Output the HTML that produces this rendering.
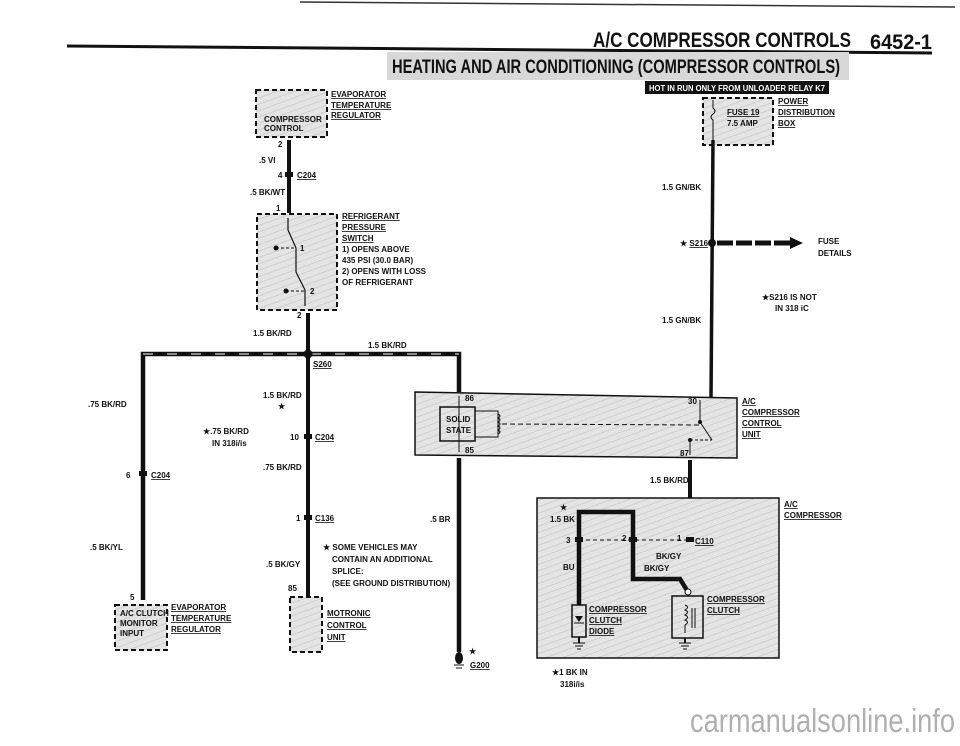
<!DOCTYPE html>
<html><head><meta charset="utf-8"><style>
html,body{margin:0;padding:0;background:#fff;width:960px;height:746px;overflow:hidden}
svg text{font-family:"Liberation Sans",sans-serif;font-weight:bold;fill:#111}
.s{font-size:8px}
.u{text-decoration:underline}
</style></head><body>
<svg width="960" height="746" viewBox="0 0 960 746" xmlns="http://www.w3.org/2000/svg">
<defs>
<pattern id="g" width="6" height="6" patternUnits="userSpaceOnUse" patternTransform="rotate(70)">
<rect width="6" height="6" fill="#e4e4e4"/><line x1="0" y1="0" x2="0" y2="6" stroke="#cfcfcf" stroke-width="2"/>
</pattern>
</defs>
<line x1="300" y1="2" x2="955" y2="7" stroke="#333" stroke-width="1.5"/>
<text x="593" y="47" font-size="21" textLength="258" lengthAdjust="spacingAndGlyphs">A/C COMPRESSOR CONTROLS</text>
<text x="870" y="49" font-size="21" textLength="62" lengthAdjust="spacingAndGlyphs">6452-1</text>
<line x1="67" y1="46" x2="932" y2="53" stroke="#111" stroke-width="3"/>
<rect x="387" y="52" width="462" height="28" fill="#d8d8d8"/>
<text x="392" y="73" font-size="19" textLength="448" lengthAdjust="spacingAndGlyphs">HEATING AND AIR CONDITIONING (COMPRESSOR CONTROLS)</text>
<rect x="645" y="81" width="184" height="13" fill="#111"/>
<text x="649" y="91" font-size="8" style="fill:#fff" textLength="176" lengthAdjust="spacingAndGlyphs">HOT IN RUN ONLY FROM UNLOADER RELAY K7</text>

<rect x="256" y="90" width="71" height="47" fill="url(#g)" stroke="#111" stroke-width="2" stroke-dasharray="5,3"/>
<text x="264" y="122" class="s" font-size="7">COMPRESSOR</text>
<text x="264" y="131" class="s" font-size="7">CONTROL</text>
<text x="331" y="97" class="s u">EVAPORATOR</text>
<text x="331" y="108" class="s u">TEMPERATURE</text>
<text x="331" y="118" class="s u">REGULATOR</text>
<line x1="289" y1="140" x2="289" y2="213" stroke="#111" stroke-width="4"/>
<text x="278" y="147" class="s">2</text>
<text x="259" y="163" class="s">.5 VI</text>
<text x="278" y="178" class="s">4</text>
<text x="297" y="178" class="s u">C204</text>
<rect x="285" y="172" width="8" height="5" fill="#111"/>
<text x="250" y="195" class="s">.5 BK/WT</text>
<text x="276" y="211" class="s">1</text>

<rect x="257" y="214" width="80" height="96" fill="url(#g)" stroke="#111" stroke-width="2" stroke-dasharray="5,3"/>
<polyline points="288,218 288,230 296,248 296,272 305,290 305,306" fill="none" stroke="#111" stroke-width="1.2"/>
<circle cx="276" cy="248" r="2.5" fill="#111"/><line x1="276" y1="248" x2="296" y2="248" stroke="#111" stroke-dasharray="3,2"/>
<circle cx="286" cy="291" r="2.5" fill="#111"/><line x1="286" y1="291" x2="305" y2="291" stroke="#111" stroke-dasharray="3,2"/>
<text x="300" y="251" class="s">1</text><text x="310" y="294" class="s">2</text>
<text x="342" y="219" class="s u">REFRIGERANT</text>
<text x="342" y="230" class="s u">PRESSURE</text>
<text x="342" y="241" class="s u">SWITCH</text>
<text x="342" y="252" class="s">1) OPENS ABOVE</text>
<text x="342" y="263" class="s">435 PSI (30.0 BAR)</text>
<text x="342" y="274" class="s">2) OPENS WITH LOSS</text>
<text x="342" y="285" class="s">OF REFRIGERANT</text>
<text x="297" y="318" class="s">2</text>
<line x1="308" y1="313" x2="308" y2="600" stroke="#111" stroke-width="4"/>
<text x="253" y="336" class="s">1.5 BK/RD</text>
<text x="368" y="348" class="s">1.5 BK/RD</text>

<polyline points="143,600 143,354 459,354 459,392" fill="none" stroke="#111" stroke-width="4.5"/>
<line x1="143" y1="354" x2="459" y2="354" stroke="#fff" stroke-width="1" stroke-dasharray="10,14"/>
<circle cx="308" cy="354" r="4.5" fill="#111"/>
<text x="313" y="367" class="s u">S260</text>

<text x="88" y="407" class="s">.75 BK/RD</text>
<text x="126" y="478" class="s">6</text>
<rect x="139" y="471" width="8" height="5" fill="#111"/>
<text x="151" y="478" class="s u">C204</text>
<text x="90" y="550" class="s">.5 BK/YL</text>
<text x="130" y="600" class="s">5</text>
<rect x="115" y="605" width="52" height="45" fill="url(#g)" stroke="#111" stroke-width="2" stroke-dasharray="5,3"/>
<text x="120" y="616" class="s" font-size="7">A/C CLUTCH</text>
<text x="120" y="626" class="s" font-size="7">MONITOR</text>
<text x="120" y="636" class="s" font-size="7">INPUT</text>
<text x="171" y="610" class="s u">EVAPORATOR</text>
<text x="171" y="621" class="s u">TEMPERATURE</text>
<text x="171" y="632" class="s u">REGULATOR</text>

<text x="263" y="398" class="s">1.5 BK/RD</text>
<text x="278" y="409" class="s">★</text>
<text x="203" y="434" class="s">★.75 BK/RD</text>
<text x="212" y="446" class="s">IN 318i/is</text>
<text x="290" y="440" class="s">10</text>
<rect x="304" y="434" width="8" height="5" fill="#111"/>
<text x="315" y="440" class="s u">C204</text>
<text x="263" y="470" class="s">.75 BK/RD</text>
<text x="296" y="521" class="s">1</text>
<rect x="304" y="515" width="8" height="5" fill="#111"/>
<text x="315" y="521" class="s u">C136</text>
<text x="266" y="567" class="s">.5 BK/GY</text>
<text x="323" y="550" class="s">★  SOME VEHICLES MAY</text>
<text x="332" y="562" class="s">CONTAIN AN ADDITIONAL</text>
<text x="332" y="574" class="s">SPLICE:</text>
<text x="332" y="586" class="s">(SEE GROUND DISTRIBUTION)</text>
<text x="288" y="591" class="s">85</text>
<rect x="290" y="597" width="32" height="55" fill="url(#g)" stroke="#111" stroke-width="2" stroke-dasharray="5,3"/>
<text x="327" y="616" class="s u">MOTRONIC</text>
<text x="327" y="628" class="s u">CONTROL</text>
<text x="327" y="640" class="s u">UNIT</text>

<polygon points="415,392 737,398 737,458 415,455" fill="url(#g)" stroke="#111" stroke-width="1.5"/>
<rect x="440" y="407" width="35" height="34" fill="none" stroke="#111" stroke-width="1.5"/>
<text x="446" y="422" class="s" font-size="7">SOLID</text>
<text x="446" y="433" class="s" font-size="7">STATE</text>
<polyline points="475,411 498,411 498,437 475,437" fill="none" stroke="#111"/>
<path d="M498 414 q4 2 0 4 q4 2 0 4 q4 2 0 4 q4 2 0 4 q4 2 0 4" fill="none" stroke="#111"/>
<line x1="502" y1="424" x2="700" y2="425" stroke="#111" stroke-dasharray="5,3"/>
<text x="465" y="401" class="s" font-size="7">86</text>
<text x="465" y="453" class="s" font-size="7">85</text>
<line x1="459" y1="396" x2="459" y2="452" stroke="#111"/>
<polyline points="700,400 700,422 712,440" fill="none" stroke="#111"/>
<circle cx="700" cy="422" r="2" fill="#111"/><circle cx="690" cy="440" r="2" fill="#111"/>
<line x1="690" y1="440" x2="712" y2="440" stroke="#111" stroke-dasharray="3,2"/>
<line x1="690" y1="440" x2="690" y2="455" stroke="#111"/>
<text x="688" y="404" class="s" font-size="7">30</text>
<text x="680" y="456" class="s" font-size="7">87</text>
<text x="742" y="404" class="s u">A/C</text>
<text x="742" y="415" class="s u">COMPRESSOR</text>
<text x="742" y="426" class="s u">CONTROL</text>
<text x="742" y="437" class="s u">UNIT</text>

<line x1="459" y1="458" x2="459" y2="652" stroke="#111" stroke-width="4.5"/>
<text x="430" y="522" class="s">.5 BR</text>
<text x="469" y="654" class="s">★</text>
<ellipse cx="459" cy="658" rx="4" ry="6" fill="#111"/>
<line x1="454" y1="665" x2="464" y2="665" stroke="#111"/><line x1="456" y1="668" x2="462" y2="668" stroke="#111"/>
<text x="470" y="668" class="s u">G200</text>

<rect x="703" y="98" width="70" height="47" fill="url(#g)" stroke="#111" stroke-width="2" stroke-dasharray="5,3"/>
<path d="M713 100 v8 q4 3 0 6 q-4 3 0 6 v20" fill="none" stroke="#111"/>
<text x="727" y="115" class="s u" font-size="7">FUSE 19</text>
<text x="727" y="126" class="s" font-size="7">7.5 AMP</text>
<text x="778" y="104" class="s u">POWER</text>
<text x="778" y="115" class="s u">DISTRIBUTION</text>
<text x="778" y="126" class="s u">BOX</text>
<line x1="713" y1="140" x2="711" y2="398" stroke="#111" stroke-width="3.5"/>
<text x="662" y="190" class="s">1.5 GN/BK</text>
<circle cx="712" cy="243" r="4" fill="#111"/>
<text x="680" y="246" class="s">★ <tspan class="u">S216</tspan></text>
<line x1="717" y1="243" x2="790" y2="243" stroke="#111" stroke-width="5" stroke-dasharray="16,3"/>
<polygon points="790,237 803,243 790,249" fill="#111"/>
<text x="818" y="244" class="s">FUSE</text>
<text x="818" y="256" class="s">DETAILS</text>
<text x="762" y="300" class="s">★S216 IS NOT</text>
<text x="775" y="311" class="s">IN 318 iC</text>
<text x="662" y="323" class="s">1.5 GN/BK</text>

<line x1="690" y1="460" x2="690" y2="590" stroke="#111" stroke-width="4"/>
<text x="650" y="483" class="s">1.5 BK/RD</text>
<rect x="537" y="498" width="242" height="160" fill="url(#g)" stroke="#111" stroke-width="1.5"/>
<text x="784" y="507" class="s u">A/C</text>
<text x="784" y="518" class="s u">COMPRESSOR</text>
<text x="560" y="510" class="s">★</text>
<text x="550" y="522" class="s">1.5 BK</text>
<polyline points="579,605 579,512 633,512 633,579 680,579 688,592" fill="none" stroke="#111" stroke-width="4.5"/>
<line x1="579" y1="540" x2="690" y2="540" stroke="#111" stroke-dasharray="4,3"/>
<rect x="575" y="537" width="8" height="5" fill="#111"/><rect x="629" y="537" width="8" height="5" fill="#111"/><rect x="686" y="537" width="8" height="5" fill="#111"/>
<text x="566" y="543" class="s">3</text><text x="622" y="541" class="s">2</text><text x="677" y="541" class="s">1</text>
<text x="695" y="544" class="s u">C110</text>
<text x="656" y="559" class="s">BK/GY</text>
<text x="644" y="571" class="s">BK/GY</text>
<text x="563" y="570" class="s">BU</text>
<circle cx="688" cy="592" r="3" fill="#fff" stroke="#111"/>
<rect x="572" y="605" width="14" height="32" fill="none" stroke="#111" stroke-width="1.5"/>
<polygon points="575,616 583,616 579,622" fill="#111"/><line x1="574" y1="623" x2="584" y2="623" stroke="#111"/>
<line x1="579" y1="637" x2="579" y2="643" stroke="#111" stroke-width="2"/>
<line x1="573" y1="643" x2="585" y2="643" stroke="#111"/><line x1="575" y1="646" x2="583" y2="646" stroke="#111"/><line x1="577" y1="649" x2="581" y2="649" stroke="#111"/>
<text x="589" y="612" class="s u">COMPRESSOR</text>
<text x="589" y="623" class="s u">CLUTCH</text>
<text x="589" y="634" class="s u">DIODE</text>
<rect x="672" y="596" width="31" height="42" fill="none" stroke="#111" stroke-width="1.5"/>
<path d="M685 605 q5 2 0 5 q5 2 0 5 q5 2 0 5 q5 2 0 5 v8" fill="none" stroke="#111"/>
<line x1="692" y1="608" x2="692" y2="628" stroke="#111"/><line x1="695" y1="608" x2="695" y2="628" stroke="#111"/>
<line x1="685" y1="638" x2="685" y2="643" stroke="#111" stroke-width="2"/>
<line x1="679" y1="643" x2="691" y2="643" stroke="#111"/><line x1="681" y1="646" x2="689" y2="646" stroke="#111"/><line x1="683" y1="649" x2="687" y2="649" stroke="#111"/>
<text x="707" y="602" class="s u">COMPRESSOR</text>
<text x="707" y="613" class="s u">CLUTCH</text>
<text x="552" y="675" class="s">★1 BK IN</text>
<text x="560" y="687" class="s">318i/is</text>

<text x="690" y="732" font-size="33" style="fill:#b0b0b0;font-weight:normal" textLength="265" lengthAdjust="spacingAndGlyphs">carmanualsonline.info</text>
</svg>
</body></html>
